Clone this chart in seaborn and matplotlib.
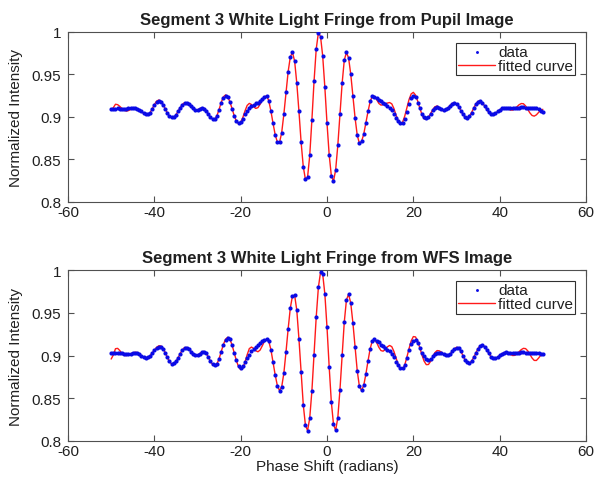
import numpy as np
import matplotlib
matplotlib.use("Agg")
import matplotlib.pyplot as plt
import seaborn as sns

# phase shift samples (radians)
phase = np.arange(-50, 50.01, 0.5)

top_data = [
    0.909, 0.9095, 0.9098, 0.910, 0.9098, 0.9095, 0.9095, 0.9097, 0.910, 0.9103,
    0.9105, 0.9103, 0.9095, 0.908, 0.9065, 0.905, 0.904, 0.9037, 0.9052, 0.9093,
    0.914, 0.9178, 0.919, 0.918, 0.9145, 0.9098, 0.905, 0.9012, 0.8995, 0.900,
    0.9025, 0.9066, 0.911, 0.9145, 0.9165, 0.9165, 0.915, 0.9125, 0.910, 0.9085,
    0.9083, 0.9095, 0.910, 0.9095, 0.907, 0.9035, 0.900, 0.898, 0.898, 0.9015,
    0.9085, 0.9165, 0.9228, 0.925, 0.923, 0.9172, 0.9095, 0.9015, 0.8955, 0.893,
    0.894, 0.898, 0.903, 0.907, 0.911, 0.913, 0.9145, 0.916, 0.917, 0.919,
    0.921, 0.923, 0.9245, 0.9194, 0.9071, 0.8925, 0.879, 0.8704, 0.870, 0.8815,
    0.9032, 0.929, 0.9535, 0.9707, 0.976, 0.9657, 0.9398, 0.9065, 0.8703, 0.8416,
    0.8265, 0.8294, 0.8548, 0.8968, 0.9423, 0.9799, 0.9991, 0.9947, 0.9718, 0.9349,
    0.8926, 0.8557, 0.831, 0.8244, 0.8377, 0.8666, 0.9038, 0.9395, 0.9669, 0.976,
    0.9694, 0.9503, 0.9252, 0.899, 0.8786, 0.869, 0.8712, 0.8796, 0.8931, 0.9065,
    0.9183, 0.9244, 0.924, 0.922, 0.9205, 0.919, 0.917, 0.915, 0.913, 0.911,
    0.908, 0.904, 0.899, 0.895, 0.893, 0.893, 0.898, 0.906, 0.915, 0.922,
    0.925, 0.923, 0.917, 0.910, 0.904, 0.900, 0.8985, 0.900, 0.904, 0.908,
    0.911, 0.912, 0.911, 0.909, 0.908, 0.909, 0.911, 0.9135, 0.9155, 0.916,
    0.9155, 0.912, 0.9075, 0.903, 0.900, 0.8992, 0.901, 0.9052, 0.9104, 0.915,
    0.918, 0.9183, 0.9165, 0.913, 0.909, 0.9055, 0.9035, 0.9034, 0.9045, 0.9065,
    0.9085, 0.910, 0.9108, 0.911, 0.9105, 0.910, 0.910, 0.9105, 0.911, 0.911,
    0.9112, 0.9112, 0.911, 0.911, 0.9108, 0.9108, 0.911, 0.9105, 0.909, 0.9075,
    0.906,
]

top_fit = [
    0.908, 0.911, 0.915, 0.9145, 0.9125, 0.910, 0.908, 0.907, 0.9075, 0.9088,
    0.9098, 0.910, 0.9092, 0.9077, 0.906, 0.9043, 0.9033, 0.903, 0.9051, 0.9095,
    0.9146, 0.9185, 0.920, 0.9187, 0.915, 0.910, 0.9049, 0.9009, 0.899, 0.8997,
    0.9024, 0.9067, 0.9111, 0.9148, 0.9168, 0.9167, 0.9149, 0.9122, 0.9097, 0.9082,
    0.9083, 0.9098, 0.911, 0.9103, 0.9075, 0.9036, 0.8998, 0.8974, 0.8974, 0.9015,
    0.9089, 0.9173, 0.9237, 0.926, 0.9239, 0.9178, 0.9099, 0.9015, 0.8951, 0.892,
    0.8936, 0.8994, 0.9071, 0.9136, 0.916, 0.9147, 0.9119, 0.9101, 0.911, 0.915,
    0.9199, 0.924, 0.9248, 0.9194, 0.9071, 0.8925, 0.879, 0.8704, 0.870, 0.8815,
    0.9032, 0.929, 0.9535, 0.9707, 0.976, 0.9657, 0.9398, 0.9065, 0.8703, 0.8416,
    0.8265, 0.8294, 0.8548, 0.8968, 0.9423, 0.9799, 0.9991, 0.9947, 0.9718, 0.9349,
    0.8926, 0.8557, 0.831, 0.8244, 0.8377, 0.8666, 0.9038, 0.9395, 0.9669, 0.976,
    0.9694, 0.9503, 0.9252, 0.899, 0.8786, 0.869, 0.8712, 0.8796, 0.8931, 0.9065,
    0.9183, 0.9244, 0.9243, 0.9205, 0.916, 0.914, 0.9144, 0.9154, 0.9164, 0.917,
    0.9155, 0.910, 0.902, 0.8955, 0.892, 0.8938, 0.9009, 0.9105, 0.9205, 0.9272,
    0.929, 0.9258, 0.9188, 0.9104, 0.9028, 0.8978, 0.8972, 0.8997, 0.904, 0.9087,
    0.912, 0.913, 0.9111, 0.9083, 0.907, 0.908, 0.9105, 0.9136, 0.916, 0.917,
    0.9157, 0.9121, 0.9075, 0.903, 0.8998, 0.899, 0.901, 0.9054, 0.9106, 0.9154,
    0.9185, 0.9188, 0.9168, 0.9131, 0.9089, 0.9052, 0.9032, 0.9032, 0.9044, 0.9064,
    0.9084, 0.9102, 0.911, 0.9106, 0.9094, 0.9082, 0.9081, 0.9096, 0.912, 0.9144,
    0.9158, 0.9156, 0.913, 0.909, 0.9048, 0.9018, 0.901, 0.9025, 0.9053, 0.9079,
    0.909,
]

bottom_data = [
    0.903, 0.9032, 0.9033, 0.9032, 0.903, 0.9027, 0.9023, 0.902, 0.9018, 0.902,
    0.9028, 0.9035, 0.9035, 0.9022, 0.900, 0.898, 0.8972, 0.8978, 0.900, 0.903,
    0.9062, 0.909, 0.9105, 0.9105, 0.9082, 0.9035, 0.898, 0.8932, 0.8905, 0.8908,
    0.8932, 0.8974, 0.9024, 0.9065, 0.909, 0.9092, 0.9075, 0.9048, 0.902, 0.9005,
    0.9006, 0.9024, 0.9042, 0.9045, 0.9025, 0.8985, 0.8938, 0.890, 0.8885, 0.8905,
    0.8965, 0.9045, 0.9125, 0.9185, 0.921, 0.919, 0.9122, 0.9035, 0.8945, 0.8875,
    0.8855, 0.8875, 0.892, 0.897, 0.901, 0.905, 0.908, 0.9105, 0.913, 0.915,
    0.917, 0.9185, 0.9195, 0.917, 0.9071, 0.8923, 0.8772, 0.8648, 0.859, 0.8633,
    0.8794, 0.9043, 0.9315, 0.9558, 0.970, 0.9707, 0.953, 0.9194, 0.8809, 0.8425,
    0.8184, 0.8122, 0.827, 0.8589, 0.9011, 0.9452, 0.9799, 0.9977, 0.9955, 0.9722,
    0.933, 0.887, 0.8458, 0.8195, 0.8125, 0.8272, 0.8601, 0.9002, 0.9393, 0.9652,
    0.972, 0.9615, 0.9383, 0.910, 0.8823, 0.864, 0.8592, 0.865, 0.8782, 0.8938,
    0.9082, 0.9175, 0.919, 0.9175, 0.9155, 0.913, 0.911, 0.909, 0.907, 0.905,
    0.902, 0.898, 0.893, 0.889, 0.886, 0.8855, 0.889, 0.897, 0.906, 0.9135,
    0.9175, 0.918, 0.9145, 0.909, 0.9035, 0.899, 0.8955, 0.8945, 0.896, 0.899,
    0.902, 0.9035, 0.9035, 0.9025, 0.9015, 0.901, 0.901, 0.902, 0.905, 0.908,
    0.9095, 0.9085, 0.905, 0.900, 0.895, 0.892, 0.8915, 0.8938, 0.898, 0.903,
    0.908, 0.911, 0.912, 0.9105, 0.9068, 0.9025, 0.8988, 0.897, 0.8972, 0.8985,
    0.9003, 0.902, 0.9033, 0.9038, 0.9035, 0.903, 0.9028, 0.903, 0.9033, 0.9035,
    0.9037, 0.9037, 0.9036, 0.9035, 0.9035, 0.9035, 0.9034, 0.9032, 0.903, 0.902,
    0.9015,
]

bottom_fit = [
    0.896, 0.9008, 0.9081, 0.9085, 0.9059, 0.9024, 0.9002, 0.9001, 0.9009, 0.9021,
    0.9032, 0.9039, 0.9037, 0.9019, 0.8996, 0.8974, 0.8966, 0.8974, 0.8998, 0.9031,
    0.9066, 0.9096, 0.9114, 0.9114, 0.9088, 0.9037, 0.898, 0.893, 0.8902, 0.8905,
    0.8931, 0.8973, 0.9025, 0.9068, 0.9094, 0.9096, 0.9078, 0.9049, 0.902, 0.9002,
    0.9004, 0.9023, 0.9044, 0.905, 0.9029, 0.8985, 0.8934, 0.8895, 0.888, 0.8902,
    0.8964, 0.9048, 0.9131, 0.9192, 0.9215, 0.9192, 0.9124, 0.9035, 0.8942, 0.887,
    0.8836, 0.8854, 0.8923, 0.901, 0.9082, 0.910, 0.9083, 0.9057, 0.9045, 0.9065,
    0.9114, 0.9167, 0.9195, 0.917, 0.9071, 0.8923, 0.8772, 0.8648, 0.859, 0.8633,
    0.8794, 0.9043, 0.9315, 0.9558, 0.970, 0.9707, 0.953, 0.9194, 0.8809, 0.8425,
    0.8184, 0.8122, 0.827, 0.8589, 0.9011, 0.9452, 0.9799, 0.9977, 0.9955, 0.9722,
    0.933, 0.887, 0.8458, 0.8195, 0.8125, 0.8272, 0.8601, 0.9002, 0.9393, 0.9652,
    0.972, 0.9615, 0.9383, 0.910, 0.8823, 0.864, 0.8592, 0.865, 0.8782, 0.8938,
    0.9082, 0.9175, 0.9187, 0.9154, 0.9098, 0.9059, 0.9052, 0.9073, 0.9103, 0.9119,
    0.9105, 0.9049, 0.8969, 0.8893, 0.8844, 0.8841, 0.8889, 0.8981, 0.9082, 0.9172,
    0.9223, 0.9219, 0.9171, 0.9092, 0.9006, 0.8934, 0.8894, 0.8896, 0.8933, 0.8986,
    0.9035, 0.9059, 0.9056, 0.904, 0.902, 0.9004, 0.900, 0.9017, 0.9049, 0.908,
    0.9098, 0.9088, 0.9051, 0.8998, 0.8948, 0.8916, 0.8912, 0.8936, 0.8981, 0.9033,
    0.9084, 0.9116, 0.9125, 0.9106, 0.9068, 0.9023, 0.8985, 0.8966, 0.8969, 0.8982,
    0.9001, 0.902, 0.9035, 0.904, 0.9032, 0.9014, 0.9001, 0.9003, 0.902, 0.9046,
    0.907, 0.9085, 0.9082, 0.9056, 0.9014, 0.8972, 0.8944, 0.8943, 0.897, 0.9004,
    0.902,
]

titles = ["Segment 3 White Light Fringe from Pupil Image",
          "Segment 3 White Light Fringe from WFS Image"]
x_ticks = [-60, -40, -20, 0, 20, 40, 60]
y_ticks = [0.8, 0.85, 0.9, 0.95, 1.0]
y_tick_labels = ["0.8", "0.85", "0.9", "0.95", "1"]

sns.set_theme(style="white")
plt.rcParams["font.family"] = ["Liberation Sans", "DejaVu Sans"]
plt.rcParams["axes.unicode_minus"] = False

EDGE = "#505050"
TEXT = "#202020"

fig = plt.figure(figsize=(5.95, 4.81), dpi=100)
ax_top = fig.add_axes([0.1143, 0.578, 0.8706, 0.3534])
ax_bot = fig.add_axes([0.1143, 0.0811, 0.8706, 0.355])

panels = [(ax_top, top_data, top_fit), (ax_bot, bottom_data, bottom_fit)]
for i, (ax, data, fit) in enumerate(panels):
    sns.scatterplot(x=phase, y=data, ax=ax, color="#0a0ae6", s=9,
                    marker="o", linewidth=0, label="data", zorder=3)
    sns.lineplot(x=phase, y=fit, ax=ax, color="#ff1a1a", linewidth=1.0,
                 label="fitted curve", zorder=2)

    ax.set_xlim(-60, 60)
    ax.set_ylim(0.8, 1.0)
    ax.set_xticks(x_ticks)
    ax.set_xticklabels([str(t) for t in x_ticks])
    ax.set_yticks(y_ticks)
    ax.set_yticklabels(y_tick_labels)
    ax.tick_params(direction="in", length=4, width=0.8, color=EDGE,
                   labelsize=11, labelcolor=TEXT, top=True, right=True,
                   bottom=True, left=True)
    ax.tick_params(axis="x", pad=2)
    ax.tick_params(axis="y", pad=5)
    for sp in ax.spines.values():
        sp.set_color(EDGE)
        sp.set_linewidth(0.8)

    ax.set_title(titles[i], fontsize=12, fontweight="bold", color=TEXT, pad=6)
    ax.set_ylabel("Normalized Intensity", fontsize=11, color=TEXT, labelpad=6)
    ax.set_xlabel("")

    leg = ax.legend(loc="upper right", fontsize=11, frameon=True, fancybox=False,
                    framealpha=1, edgecolor="#303030", borderpad=0.15,
                    labelspacing=0.0, handlelength=2.4, handletextpad=0.2,
                    borderaxespad=0.7, scatterpoints=1, markerscale=0.7)
    leg.get_frame().set_linewidth(0.8)
    for t in leg.get_texts():
        t.set_color(TEXT)

ax_bot.set_xlabel("Phase Shift (radians)", fontsize=11, color=TEXT, labelpad=1)

fig.savefig("out.png", dpi=100)
